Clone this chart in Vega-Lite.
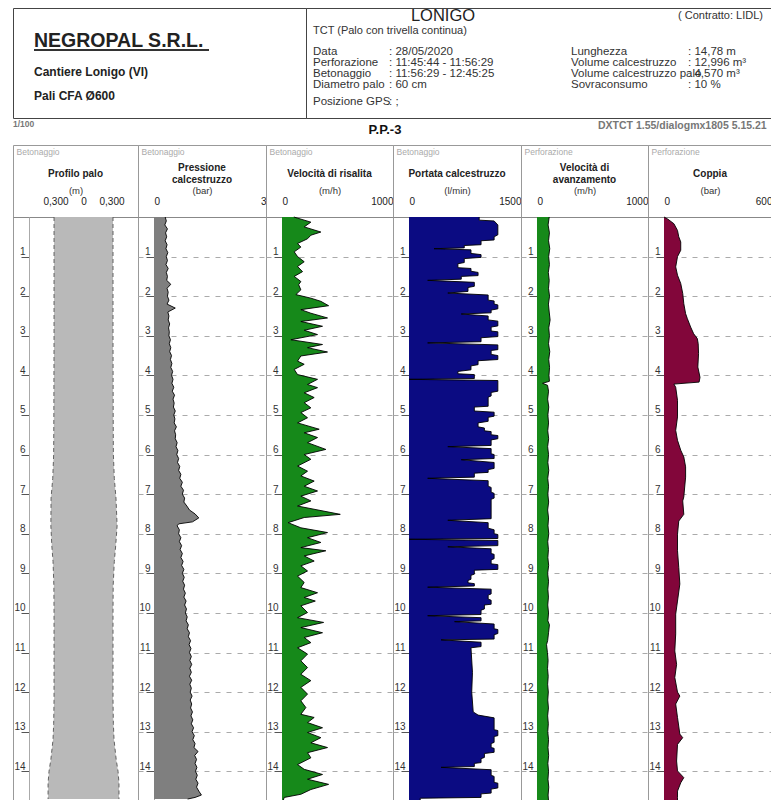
{
"$schema": "https://vega.github.io/schema/vega-lite/v6.json",
"padding": {"left": 12, "top": 7, "right": 0, "bottom": 0},
"background": "white",
"config": {
  "font": "Liberation Sans",
  "view": {"stroke": "#999", "strokeWidth": 1},
  "concat": {"spacing": 0},
  "axis": {"minExtent": 0, "labelOverlap": false, "labelFlush": false},
  "axisX": {"ticks": false, "tickSize": 0, "labelPadding": 11, "labelFontSize": 10, "labelColor": "#222", "titleFontSize": 9.5, "titleFontWeight": "normal", "titleColor": "#333", "titlePadding": 0.5, "domainColor": "#888", "grid": false},
  "axisY": {"labelFontSize": 10, "labelColor": "#333", "labelAlign": "right", "labelBaseline": "bottom", "labelPadding": -4, "tickSize": 8, "tickColor": "#555", "domainColor": "#aaa", "gridDash": [5, 6], "gridColor": "#aaa", "titleAngle": 0, "titleAlign": "left", "titleBaseline": "middle", "titleFontSize": 8.5, "titleFontWeight": "normal", "titleColor": "#aaa"},
  "title": {"fontSize": 10, "fontWeight": "bold", "color": "#222", "frame": "group", "anchor": "middle", "baseline": "middle", "lineHeight": 12, "offset": -34}
},
"datasets": {
  "prof": [{"d":0,"l":-0.316,"r":0.316},{"d":3,"l":-0.316,"r":0.316},{"d":5,"l":-0.318,"r":0.318},{"d":6,"l":-0.32,"r":0.32},{"d":6.6,"l":-0.33,"r":0.33},{"d":7.1,"l":-0.348,"r":0.348},{"d":7.8,"l":-0.35,"r":0.36},{"d":8.3,"l":-0.34,"r":0.345},{"d":8.7,"l":-0.327,"r":0.33},{"d":9.3,"l":-0.318,"r":0.318},{"d":10,"l":-0.316,"r":0.316},{"d":12.2,"l":-0.316,"r":0.316},{"d":12.8,"l":-0.32,"r":0.32},{"d":13.2,"l":-0.327,"r":0.327},{"d":13.7,"l":-0.35,"r":0.35},{"d":14,"l":-0.37,"r":0.37},{"d":14.3,"l":-0.38,"r":0.38},{"d":14.7,"l":-0.38,"r":0.38}],
  "pres": [{"d":0,"p":0.30},{"d":0.1,"p":0.33},{"d":0.2,"p":0.29},{"d":0.3,"p":0.36},{"d":0.4,"p":0.31},{"d":0.5,"p":0.34},{"d":0.6,"p":0.30},{"d":0.7,"p":0.35},{"d":0.8,"p":0.32},{"d":0.9,"p":0.37},{"d":1.0,"p":0.33},{"d":1.1,"p":0.36},{"d":1.2,"p":0.32},{"d":1.3,"p":0.38},{"d":1.4,"p":0.33},{"d":1.5,"p":0.36},{"d":1.6,"p":0.34},{"d":1.7,"p":0.45},{"d":1.8,"p":0.35},{"d":1.9,"p":0.38},{"d":2.0,"p":0.36},{"d":2.1,"p":0.40},{"d":2.2,"p":0.35},{"d":2.3,"p":0.57},{"d":2.4,"p":0.37},{"d":2.5,"p":0.40},{"d":2.6,"p":0.38},{"d":2.7,"p":0.42},{"d":2.8,"p":0.39},{"d":2.9,"p":0.41},{"d":3.0,"p":0.40},{"d":3.1,"p":0.44},{"d":3.2,"p":0.41},{"d":3.3,"p":0.45},{"d":3.4,"p":0.42},{"d":3.5,"p":0.47},{"d":3.6,"p":0.44},{"d":3.7,"p":0.48},{"d":3.8,"p":0.45},{"d":3.9,"p":0.50},{"d":4.0,"p":0.47},{"d":4.1,"p":0.51},{"d":4.2,"p":0.48},{"d":4.3,"p":0.53},{"d":4.4,"p":0.49},{"d":4.5,"p":0.55},{"d":4.6,"p":0.51},{"d":4.7,"p":0.54},{"d":4.8,"p":0.52},{"d":4.9,"p":0.57},{"d":5.0,"p":0.53},{"d":5.1,"p":0.56},{"d":5.2,"p":0.54},{"d":5.3,"p":0.60},{"d":5.4,"p":0.55},{"d":5.5,"p":0.58},{"d":5.6,"p":0.57},{"d":5.7,"p":0.62},{"d":5.8,"p":0.59},{"d":5.9,"p":0.64},{"d":6.0,"p":0.61},{"d":6.1,"p":0.66},{"d":6.2,"p":0.63},{"d":6.3,"p":0.69},{"d":6.4,"p":0.66},{"d":6.5,"p":0.72},{"d":6.6,"p":0.69},{"d":6.7,"p":0.76},{"d":6.8,"p":0.72},{"d":6.9,"p":0.79},{"d":7.0,"p":0.76},{"d":7.1,"p":0.82},{"d":7.2,"p":0.80},{"d":7.3,"p":0.88},{"d":7.4,"p":0.95},{"d":7.5,"p":1.10},{"d":7.6,"p":1.20},{"d":7.7,"p":1.03},{"d":7.75,"p":0.66},{"d":7.8,"p":0.62},{"d":7.9,"p":0.68},{"d":8.0,"p":0.66},{"d":8.1,"p":0.72},{"d":8.2,"p":0.68},{"d":8.3,"p":0.74},{"d":8.4,"p":0.70},{"d":8.5,"p":0.76},{"d":8.6,"p":0.72},{"d":8.7,"p":0.78},{"d":8.8,"p":0.74},{"d":8.9,"p":0.80},{"d":9.0,"p":0.76},{"d":9.1,"p":0.81},{"d":9.2,"p":0.77},{"d":9.3,"p":0.82},{"d":9.4,"p":0.79},{"d":9.5,"p":0.84},{"d":9.6,"p":0.80},{"d":9.7,"p":0.86},{"d":9.8,"p":0.82},{"d":9.9,"p":0.87},{"d":10.0,"p":0.84},{"d":10.1,"p":0.89},{"d":10.2,"p":0.86},{"d":10.3,"p":0.92},{"d":10.4,"p":0.89},{"d":10.5,"p":0.95},{"d":10.6,"p":0.92},{"d":10.7,"p":0.98},{"d":10.8,"p":0.94},{"d":10.9,"p":0.99},{"d":11.0,"p":0.95},{"d":11.1,"p":1.00},{"d":11.2,"p":0.96},{"d":11.3,"p":1.01},{"d":11.4,"p":0.96},{"d":11.5,"p":1.00},{"d":11.6,"p":0.95},{"d":11.7,"p":1.01},{"d":11.8,"p":0.96},{"d":11.9,"p":1.00},{"d":12.0,"p":0.97},{"d":12.1,"p":1.02},{"d":12.2,"p":0.97},{"d":12.3,"p":1.01},{"d":12.4,"p":0.98},{"d":12.5,"p":1.03},{"d":12.6,"p":0.99},{"d":12.7,"p":1.04},{"d":12.8,"p":1.00},{"d":12.9,"p":1.06},{"d":13.0,"p":1.02},{"d":13.1,"p":1.08},{"d":13.2,"p":1.04},{"d":13.3,"p":1.10},{"d":13.4,"p":1.07},{"d":13.5,"p":1.18},{"d":13.6,"p":1.09},{"d":13.7,"p":1.14},{"d":13.8,"p":1.10},{"d":13.9,"p":1.15},{"d":14.0,"p":1.11},{"d":14.1,"p":1.16},{"d":14.2,"p":1.12},{"d":14.3,"p":1.18},{"d":14.4,"p":1.14},{"d":14.5,"p":1.20},{"d":14.6,"p":1.27},{"d":14.66,"p":1.10},{"d":14.7,"p":0.90}],
  "vel": [{"d":0,"v":107},{"d":0.13,"v":260},{"d":0.25,"v":200},{"d":0.38,"v":350},{"d":0.46,"v":260},{"d":0.55,"v":230},{"d":0.67,"v":140},{"d":0.76,"v":170},{"d":0.88,"v":110},{"d":1.0,"v":140},{"d":1.13,"v":200},{"d":1.25,"v":140},{"d":1.38,"v":185},{"d":1.5,"v":110},{"d":1.63,"v":170},{"d":1.71,"v":150},{"d":1.84,"v":170},{"d":1.96,"v":125},{"d":2.05,"v":260},{"d":2.13,"v":350},{"d":2.24,"v":420},{"d":2.34,"v":170},{"d":2.43,"v":260},{"d":2.55,"v":410},{"d":2.64,"v":170},{"d":2.76,"v":365},{"d":2.86,"v":200},{"d":2.97,"v":320},{"d":3.1,"v":80},{"d":3.22,"v":365},{"d":3.3,"v":230},{"d":3.41,"v":410},{"d":3.51,"v":170},{"d":3.64,"v":140},{"d":3.72,"v":200},{"d":3.85,"v":110},{"d":3.98,"v":140},{"d":4.1,"v":320},{"d":4.23,"v":230},{"d":4.31,"v":320},{"d":4.44,"v":200},{"d":4.56,"v":290},{"d":4.69,"v":200},{"d":4.82,"v":260},{"d":4.94,"v":170},{"d":5.07,"v":230},{"d":5.2,"v":140},{"d":5.36,"v":335},{"d":5.45,"v":200},{"d":5.57,"v":320},{"d":5.7,"v":230},{"d":5.87,"v":395},{"d":6.0,"v":200},{"d":6.12,"v":260},{"d":6.29,"v":140},{"d":6.42,"v":230},{"d":6.54,"v":170},{"d":6.67,"v":290},{"d":6.8,"v":200},{"d":6.92,"v":320},{"d":7.05,"v":170},{"d":7.17,"v":260},{"d":7.3,"v":140},{"d":7.51,"v":525},{"d":7.59,"v":200},{"d":7.72,"v":55},{"d":7.85,"v":170},{"d":7.97,"v":410},{"d":8.1,"v":230},{"d":8.22,"v":350},{"d":8.35,"v":170},{"d":8.43,"v":395},{"d":8.56,"v":200},{"d":8.69,"v":290},{"d":8.81,"v":170},{"d":8.94,"v":230},{"d":9.07,"v":140},{"d":9.23,"v":200},{"d":9.36,"v":170},{"d":9.49,"v":320},{"d":9.61,"v":200},{"d":9.7,"v":300},{"d":9.82,"v":170},{"d":9.99,"v":230},{"d":10.12,"v":140},{"d":10.24,"v":375},{"d":10.37,"v":170},{"d":10.5,"v":365},{"d":10.62,"v":200},{"d":10.75,"v":260},{"d":10.88,"v":140},{"d":11.04,"v":230},{"d":11.21,"v":170},{"d":11.38,"v":230},{"d":11.55,"v":170},{"d":11.71,"v":260},{"d":11.88,"v":170},{"d":12.05,"v":230},{"d":12.22,"v":170},{"d":12.39,"v":215},{"d":12.56,"v":170},{"d":12.64,"v":290},{"d":12.77,"v":230},{"d":12.9,"v":365},{"d":13.02,"v":230},{"d":13.15,"v":350},{"d":13.28,"v":260},{"d":13.4,"v":410},{"d":13.53,"v":230},{"d":13.66,"v":260},{"d":13.83,"v":140},{"d":13.95,"v":200},{"d":14.08,"v":365},{"d":14.2,"v":230},{"d":14.33,"v":420},{"d":14.46,"v":260},{"d":14.58,"v":170},{"d":14.66,"v":20},{"d":14.75,"v":10}],
  "port": [{"d":0,"q":940},{"d":0.08,"q":940},{"d":0.1,"q":1140},{"d":0.2,"q":1190},{"d":0.45,"q":1190},{"d":0.5,"q":1140},{"d":0.58,"q":1140},{"d":0.6,"q":965},{"d":0.7,"q":965},{"d":0.72,"q":740},{"d":0.78,"q":740},{"d":0.8,"q":335},{"d":0.83,"q":830},{"d":0.92,"q":830},{"d":0.95,"q":965},{"d":1.02,"q":965},{"d":1.05,"q":740},{"d":1.15,"q":740},{"d":1.18,"q":655},{"d":1.28,"q":655},{"d":1.3,"q":830},{"d":1.37,"q":830},{"d":1.4,"q":925},{"d":1.48,"q":925},{"d":1.5,"q":700},{"d":1.57,"q":700},{"d":1.6,"q":250},{"d":1.65,"q":875},{"d":1.75,"q":875},{"d":1.78,"q":790},{"d":1.88,"q":790},{"d":1.92,"q":520},{"d":1.97,"q":1060},{"d":2.1,"q":1060},{"d":2.12,"q":1140},{"d":2.2,"q":1140},{"d":2.22,"q":1190},{"d":2.32,"q":1190},{"d":2.35,"q":1100},{"d":2.42,"q":1100},{"d":2.45,"q":700},{"d":2.5,"q":1060},{"d":2.6,"q":1060},{"d":2.63,"q":1190},{"d":2.75,"q":1190},{"d":2.78,"q":1100},{"d":2.88,"q":1100},{"d":2.9,"q":1190},{"d":3.02,"q":1190},{"d":3.05,"q":965},{"d":3.15,"q":965},{"d":3.18,"q":250},{"d":3.23,"q":1190},{"d":3.35,"q":1190},{"d":3.37,"q":1100},{"d":3.47,"q":1100},{"d":3.5,"q":1190},{"d":3.6,"q":1190},{"d":3.63,"q":925},{"d":3.73,"q":925},{"d":3.76,"q":830},{"d":3.86,"q":830},{"d":3.9,"q":655},{"d":3.96,"q":655},{"d":3.98,"q":875},{"d":4.08,"q":875},{"d":4.1,"q":0},{"d":4.13,"q":1190},{"d":4.4,"q":1190},{"d":4.43,"q":1100},{"d":4.52,"q":1100},{"d":4.55,"q":1060},{"d":4.78,"q":1060},{"d":4.8,"q":875},{"d":4.9,"q":875},{"d":4.93,"q":1140},{"d":5.03,"q":1140},{"d":5.06,"q":1060},{"d":5.16,"q":1060},{"d":5.2,"q":925},{"d":5.3,"q":925},{"d":5.33,"q":1010},{"d":5.4,"q":1010},{"d":5.42,"q":1100},{"d":5.5,"q":1100},{"d":5.52,"q":1190},{"d":5.6,"q":1190},{"d":5.63,"q":1100},{"d":5.77,"q":1100},{"d":5.8,"q":520},{"d":5.85,"q":1100},{"d":5.98,"q":1100},{"d":6.0,"q":1140},{"d":6.1,"q":1140},{"d":6.13,"q":700},{"d":6.2,"q":1140},{"d":6.35,"q":1140},{"d":6.38,"q":1060},{"d":6.45,"q":1060},{"d":6.47,"q":875},{"d":6.57,"q":875},{"d":6.6,"q":250},{"d":6.66,"q":1060},{"d":6.8,"q":1060},{"d":6.83,"q":1100},{"d":6.95,"q":1100},{"d":6.98,"q":1140},{"d":7.1,"q":1140},{"d":7.13,"q":1100},{"d":7.62,"q":1100},{"d":7.66,"q":520},{"d":7.72,"q":1060},{"d":7.86,"q":1060},{"d":7.9,"q":1140},{"d":8.0,"q":1140},{"d":8.02,"q":1190},{"d":8.12,"q":1190},{"d":8.14,"q":0},{"d":8.17,"q":1190},{"d":8.3,"q":1190},{"d":8.33,"q":520},{"d":8.38,"q":1100},{"d":8.5,"q":1100},{"d":8.52,"q":1140},{"d":8.63,"q":1140},{"d":8.66,"q":1100},{"d":8.76,"q":1100},{"d":8.78,"q":1190},{"d":8.9,"q":1190},{"d":8.92,"q":875},{"d":9.02,"q":875},{"d":9.05,"q":830},{"d":9.15,"q":830},{"d":9.18,"q":790},{"d":9.24,"q":790},{"d":9.26,"q":875},{"d":9.32,"q":875},{"d":9.35,"q":250},{"d":9.4,"q":1100},{"d":9.52,"q":1100},{"d":9.55,"q":1060},{"d":9.65,"q":1060},{"d":9.68,"q":1100},{"d":9.78,"q":1100},{"d":9.8,"q":1010},{"d":9.9,"q":1010},{"d":9.93,"q":965},{"d":10.04,"q":965},{"d":10.07,"q":250},{"d":10.12,"q":965},{"d":10.2,"q":965},{"d":10.22,"q":610},{"d":10.28,"q":1140},{"d":10.4,"q":1140},{"d":10.42,"q":1190},{"d":10.52,"q":1190},{"d":10.55,"q":1140},{"d":10.66,"q":1140},{"d":10.68,"q":430},{"d":10.74,"q":965},{"d":10.85,"q":965},{"d":10.88,"q":830},{"d":11.5,"q":850},{"d":12.0,"q":840},{"d":12.5,"q":860},{"d":12.58,"q":925},{"d":12.65,"q":1140},{"d":12.95,"q":1140},{"d":12.97,"q":1190},{"d":13.1,"q":1190},{"d":13.12,"q":1140},{"d":13.27,"q":1140},{"d":13.3,"q":1100},{"d":13.4,"q":1100},{"d":13.42,"q":1140},{"d":13.52,"q":1140},{"d":13.55,"q":1010},{"d":13.65,"q":1010},{"d":13.68,"q":965},{"d":13.78,"q":965},{"d":13.8,"q":875},{"d":13.88,"q":875},{"d":13.9,"q":430},{"d":13.96,"q":1100},{"d":14.1,"q":1100},{"d":14.13,"q":1140},{"d":14.28,"q":1140},{"d":14.3,"q":1190},{"d":14.42,"q":1190},{"d":14.45,"q":1100},{"d":14.55,"q":1100},{"d":14.57,"q":965},{"d":14.66,"q":965},{"d":14.68,"q":150},{"d":14.75,"q":150}],
  "av": [{"d":0,"a":110},{"d":0.2,"a":100},{"d":0.4,"a":112},{"d":0.6,"a":104},{"d":0.8,"a":115},{"d":1.0,"a":105},{"d":1.2,"a":112},{"d":1.4,"a":102},{"d":1.6,"a":110},{"d":1.8,"a":104},{"d":2.0,"a":113},{"d":2.2,"a":103},{"d":2.4,"a":110},{"d":2.6,"a":118},{"d":2.8,"a":106},{"d":3.0,"a":112},{"d":3.2,"a":104},{"d":3.4,"a":115},{"d":3.6,"a":106},{"d":3.8,"a":113},{"d":4.0,"a":108},{"d":4.15,"a":112},{"d":4.2,"a":50},{"d":4.25,"a":95},{"d":4.4,"a":104},{"d":4.6,"a":96},{"d":4.8,"a":106},{"d":5.0,"a":98},{"d":5.2,"a":104},{"d":5.4,"a":97},{"d":5.6,"a":105},{"d":5.8,"a":96},{"d":6.0,"a":104},{"d":6.2,"a":98},{"d":6.4,"a":106},{"d":6.6,"a":97},{"d":6.8,"a":104},{"d":7.0,"a":98},{"d":7.2,"a":105},{"d":7.4,"a":96},{"d":7.6,"a":104},{"d":7.8,"a":99},{"d":8.0,"a":106},{"d":8.2,"a":97},{"d":8.4,"a":103},{"d":8.6,"a":98},{"d":8.8,"a":105},{"d":9.0,"a":96},{"d":9.2,"a":104},{"d":9.4,"a":98},{"d":9.6,"a":103},{"d":9.8,"a":97},{"d":10.0,"a":104},{"d":10.2,"a":98},{"d":10.3,"a":112},{"d":10.5,"a":104},{"d":10.7,"a":96},{"d":10.8,"a":86},{"d":11.0,"a":94},{"d":11.2,"a":100},{"d":11.4,"a":95},{"d":11.6,"a":101},{"d":11.8,"a":96},{"d":12.0,"a":102},{"d":12.2,"a":97},{"d":12.4,"a":103},{"d":12.6,"a":96},{"d":12.8,"a":102},{"d":13.0,"a":97},{"d":13.2,"a":104},{"d":13.4,"a":99},{"d":13.6,"a":105},{"d":13.8,"a":98},{"d":14.0,"a":104},{"d":14.2,"a":99},{"d":14.4,"a":106},{"d":14.6,"a":100},{"d":14.75,"a":104}],
  "cop": [{"d":0,"c":0},{"d":0.05,"c":20},{"d":0.17,"c":55},{"d":0.34,"c":75},{"d":0.5,"c":82},{"d":0.63,"c":93},{"d":0.84,"c":93},{"d":1.0,"c":75},{"d":1.26,"c":65},{"d":1.47,"c":75},{"d":1.68,"c":93},{"d":1.93,"c":104},{"d":2.19,"c":110},{"d":2.44,"c":120},{"d":2.57,"c":130},{"d":2.78,"c":148},{"d":2.95,"c":165},{"d":3.07,"c":185},{"d":3.2,"c":190},{"d":3.45,"c":192},{"d":3.79,"c":188},{"d":4.05,"c":200},{"d":4.17,"c":195},{"d":4.22,"c":55},{"d":4.3,"c":65},{"d":4.63,"c":75},{"d":5.05,"c":75},{"d":5.39,"c":65},{"d":5.64,"c":75},{"d":5.89,"c":93},{"d":6.06,"c":110},{"d":6.31,"c":120},{"d":6.57,"c":120},{"d":6.82,"c":115},{"d":7.07,"c":110},{"d":7.17,"c":104},{"d":7.51,"c":110},{"d":7.68,"c":82},{"d":8.01,"c":75},{"d":8.43,"c":75},{"d":8.85,"c":82},{"d":9.27,"c":88},{"d":9.7,"c":75},{"d":10.03,"c":65},{"d":10.53,"c":65},{"d":10.96,"c":60},{"d":11.3,"c":70},{"d":11.63,"c":60},{"d":12.0,"c":75},{"d":12.1,"c":88},{"d":12.3,"c":65},{"d":12.64,"c":75},{"d":13.06,"c":88},{"d":13.15,"c":104},{"d":13.32,"c":75},{"d":13.74,"c":70},{"d":13.99,"c":75},{"d":14.16,"c":110},{"d":14.29,"c":93},{"d":14.5,"c":75},{"d":14.66,"c":75},{"d":14.75,"c":75}]
},
"spacing": 2,
"vconcat": [
  {
    "spacing": 0,
    "vconcat": [
      {
        "spacing": 0,
        "bounds": "flush",
        "hconcat": [
          {
            "width": 293, "height": 110,
            "view": {"stroke": "#444"},
            "data": {"values": [{"row": 1, "col": 1, "text": "NEGROPAL S.R.L."}, {"row": 3, "col": 1, "text": "Cantiere Lonigo (VI)"}, {"row": 4, "col": 1, "text": "Pali CFA Ø600"}]},
            "encoding": {
              "x": {"field": "col", "type": "quantitative", "scale": {"domain": [1, 2], "range": [21, 196], "nice": false, "zero": false}, "axis": null},
              "y": {"field": "row", "type": "quantitative", "scale": {"domain": [1, 2, 3, 4], "range": [32.5, 42, 64, 88], "nice": false, "zero": false}, "axis": null}
            },
            "layer": [
              {"transform": [{"filter": "datum.row == 1"}], "mark": {"type": "text", "align": "left", "baseline": "middle", "fontSize": 19.5, "fontWeight": "bold", "color": "#222"}, "encoding": {"text": {"field": "text"}}},
              {"transform": [{"filter": "datum.row > 1"}], "mark": {"type": "text", "align": "left", "baseline": "middle", "fontSize": 12, "fontWeight": "bold", "color": "#222"}, "encoding": {"text": {"field": "text"}}},
              {"data": {"values": [{"row": 2, "col": 1, "col2": 2}]}, "mark": {"type": "rule", "color": "#333", "strokeWidth": 2}, "encoding": {"x2": {"field": "col2"}}}
            ]
          },
          {
            "width": 466, "height": 110,
            "view": {"stroke": "#444"},
            "data": {"values": [
              {"row": 1, "col": 3, "text": "LONIGO"},
              {"row": 1, "col": 6, "text": "( Contratto: LIDL)"},
              {"row": 2, "col": 1, "text": "TCT (Palo con trivella continua)"},
              {"row": 3, "col": 1, "text": "Data"}, {"row": 3, "col": 2, "text": ": 28/05/2020"}, {"row": 3, "col": 4, "text": "Lunghezza"}, {"row": 3, "col": 5, "text": ": 14,78 m"},
              {"row": 4, "col": 1, "text": "Perforazione"}, {"row": 4, "col": 2, "text": ": 11:45:44 - 11:56:29"}, {"row": 4, "col": 4, "text": "Volume calcestruzzo"}, {"row": 4, "col": 5, "text": ": 12,996 m³"},
              {"row": 5, "col": 1, "text": "Betonaggio"}, {"row": 5, "col": 2, "text": ": 11:56:29 - 12:45:25"}, {"row": 5, "col": 4, "text": "Volume calcestruzzo palo"}, {"row": 5, "col": 5, "text": ": 4,570 m³"},
              {"row": 6, "col": 1, "text": "Diametro palo"}, {"row": 6, "col": 2, "text": ": 60 cm"}, {"row": 6, "col": 4, "text": "Sovraconsumo"}, {"row": 6, "col": 5, "text": ": 10 %"},
              {"row": 7, "col": 1, "text": "Posizione GPS"}, {"row": 7, "col": 2, "text": ": ;"}
            ]},
            "encoding": {
              "x": {"field": "col", "type": "quantitative", "scale": {"domain": [1, 2, 3, 4, 5, 6], "range": [7, 83, 137, 265, 382, 457], "nice": false, "zero": false}, "axis": null},
              "y": {"field": "row", "type": "quantitative", "scale": {"domain": [1, 2, 2.5, 3, 4, 5, 6, 7], "range": [8, 23, 33, 44, 55, 66, 77, 94], "nice": false, "zero": false}, "axis": null}
            },
            "layer": [
              {"transform": [{"filter": "datum.row == 1 && datum.col == 3"}], "mark": {"type": "text", "align": "center", "baseline": "middle", "fontSize": 16.5, "color": "#222"}, "encoding": {"text": {"field": "text"}}},
              {"transform": [{"filter": "datum.row == 1 && datum.col == 6"}], "mark": {"type": "text", "align": "right", "baseline": "middle", "fontSize": 11, "color": "#333"}, "encoding": {"text": {"field": "text"}}},
              {"transform": [{"filter": "datum.row == 2"}], "mark": {"type": "text", "align": "left", "baseline": "middle", "fontSize": 11, "color": "#333"}, "encoding": {"text": {"field": "text"}}},
              {"transform": [{"filter": "datum.row >= 3"}], "mark": {"type": "text", "align": "left", "baseline": "middle", "fontSize": 11.5, "color": "#333"}, "encoding": {"text": {"field": "text"}}},
              {"data": {"values": [{}]}, "mark": {"type": "rule", "color": "#555", "strokeWidth": 1}, "encoding": {"y": {"datum": 2.5}}}
            ]
          }
        ]
      },
      {
        "width": 759, "height": 20,
        "view": {"stroke": "transparent"},
        "data": {"values": [{"col": 1, "row": 1, "text": "1/100"}, {"col": 2, "row": 2, "text": "P.P.-3"}, {"col": 3, "row": 3, "text": "DXTCT 1.55/dialogmx1805 5.15.21"}]},
        "encoding": {
          "x": {"field": "col", "type": "quantitative", "scale": {"domain": [1, 2, 3], "range": [0, 372, 585], "nice": false, "zero": false}, "axis": null},
          "y": {"field": "row", "type": "quantitative", "scale": {"domain": [1, 2, 3], "range": [2.5, 9, 5], "nice": false, "zero": false}, "axis": null},
          "text": {"field": "text"}
        },
        "layer": [
          {"transform": [{"filter": "datum.col == 1"}], "mark": {"type": "text", "align": "left", "baseline": "middle", "fontSize": 8.5, "fontWeight": "bold", "color": "#777"}},
          {"transform": [{"filter": "datum.col == 2"}], "mark": {"type": "text", "align": "center", "baseline": "middle", "fontSize": 13, "fontWeight": "bold", "color": "#111"}},
          {"transform": [{"filter": "datum.col == 3"}], "mark": {"type": "text", "align": "left", "baseline": "middle", "fontSize": 10.5, "fontWeight": "bold", "color": "#777"}}
        ]
      }
    ]
  },
  {
    "spacing": 0,
    "bounds": "flush",
    "hconcat": [
      {
        "width": 125, "height": 656,
        "title": "Profilo palo",
        "data": {"name": "prof"},
        "encoding": {
          "y": {"field": "d", "type": "quantitative", "scale": {"domain": [0, 14.75], "range": [72, 656], "nice": false, "zero": false}, "axis": {"orient": "left", "offset": -16, "values": [1,2,3,4,5,6,7,8,9,10,11,12,13,14], "title": "Betonaggio", "titleX": -13, "titleY": 6, "grid": false}},
          "x": {"field": "l", "type": "quantitative", "scale": {"domain": [-0.756, 0.584], "nice": false, "zero": false}, "axis": {"orient": "top", "offset": -72, "values": [-0.3, 0, 0.3], "labelExpr": "datum.value == 0 ? '0' : '0,300'", "labelAlign": "center", "title": "(m)"}}
        },
        "layer": [
          {"mark": {"type": "area", "orient": "horizontal", "color": "#b9b9b9"}, "encoding": {"x2": {"field": "r"}}},
          {"mark": {"type": "line", "orient": "horizontal", "color": "#555", "strokeDash": [4, 3], "strokeWidth": 0.9}},
          {"mark": {"type": "line", "orient": "horizontal", "color": "#555", "strokeDash": [4, 3], "strokeWidth": 0.9}, "encoding": {"x": {"field": "r", "type": "quantitative"}}},
          {"data": {"values": [{"l": 0}]}, "mark": {"type": "rule", "color": "#666", "strokeDash": [5, 4], "strokeWidth": 0.8}, "encoding": {"y": {"datum": 0}, "y2": {"datum": 14.75}}}
        ]
      },
      {
        "width": 128, "height": 656,
        "title": {"text": ["Pressione", "calcestruzzo"], "offset": -40},
        "data": {"name": "pres"},
        "encoding": {
          "y": {"field": "d", "type": "quantitative", "scale": {"domain": [0, 14.75], "range": [72, 656], "nice": false, "zero": false}, "axis": {"orient": "left", "offset": -16, "values": [1,2,3,4,5,6,7,8,9,10,11,12,13,14], "title": "Betonaggio", "titleX": -13, "titleY": 6, "grid": true}},
          "x": {"field": "p", "type": "quantitative", "scale": {"domain": [-0.4286, 3], "nice": false, "zero": false}, "axis": {"orient": "top", "offset": -72, "values": [0, 3], "labelAlign": {"condition": {"test": "datum.value <= 0", "value": "left"}, "value": "right"}, "title": "(bar)"}}
        },
        "layer": [
          {"data": {"values": [{"p": 1.5}]}, "mark": {"type": "rule", "color": "#aaa", "strokeDash": [5, 6], "strokeWidth": 1}, "encoding": {"y": {"datum": 0}, "y2": {"datum": 14.75}}},
          {"mark": {"type": "area", "orient": "horizontal", "color": "#7f7f7f"}},
          {"mark": {"type": "line", "orient": "horizontal", "color": "#000", "strokeWidth": 0.9}}
        ]
      },
      {
        "width": 127, "height": 656,
        "title": "Velocità di risalita",
        "data": {"name": "vel"},
        "encoding": {
          "y": {"field": "d", "type": "quantitative", "scale": {"domain": [0, 14.75], "range": [72, 656], "nice": false, "zero": false}, "axis": {"orient": "left", "offset": -16, "values": [1,2,3,4,5,6,7,8,9,10,11,12,13,14], "title": "Betonaggio", "titleX": -13, "titleY": 6, "grid": true}},
          "x": {"field": "v", "type": "quantitative", "scale": {"domain": [-144.1, 1000], "nice": false, "zero": false}, "axis": {"orient": "top", "offset": -72, "values": [0, 1000], "format": "d", "labelAlign": {"condition": {"test": "datum.value <= 0", "value": "left"}, "value": "right"}, "title": "(m/h)"}}
        },
        "layer": [
          {"data": {"values": [{"v": 500}]}, "mark": {"type": "rule", "color": "#aaa", "strokeDash": [5, 6], "strokeWidth": 1}, "encoding": {"y": {"datum": 0}, "y2": {"datum": 14.75}}},
          {"mark": {"type": "area", "orient": "horizontal", "color": "#16891a"}},
          {"mark": {"type": "line", "orient": "horizontal", "color": "#000", "strokeWidth": 0.9}}
        ]
      },
      {
        "width": 128, "height": 656,
        "title": "Portata calcestruzzo",
        "data": {"name": "port"},
        "encoding": {
          "y": {"field": "d", "type": "quantitative", "scale": {"domain": [0, 14.75], "range": [72, 656], "nice": false, "zero": false}, "axis": {"orient": "left", "offset": -16, "values": [1,2,3,4,5,6,7,8,9,10,11,12,13,14], "title": "Betonaggio", "titleX": -13, "titleY": 6, "grid": true}},
          "x": {"field": "q", "type": "quantitative", "scale": {"domain": [-214.3, 1500], "nice": false, "zero": false}, "axis": {"orient": "top", "offset": -72, "values": [0, 1500], "format": "d", "labelAlign": {"condition": {"test": "datum.value <= 0", "value": "left"}, "value": "right"}, "title": "(l/min)"}}
        },
        "layer": [
          {"data": {"values": [{"q": 750}]}, "mark": {"type": "rule", "color": "#aaa", "strokeDash": [5, 6], "strokeWidth": 1}, "encoding": {"y": {"datum": 0}, "y2": {"datum": 14.75}}},
          {"mark": {"type": "area", "orient": "horizontal", "color": "#0b0b82"}},
          {"mark": {"type": "line", "orient": "horizontal", "color": "#000", "strokeWidth": 0.9}}
        ]
      },
      {
        "width": 127, "height": 656,
        "title": {"text": ["Velocità di", "avanzamento"], "offset": -40},
        "data": {"name": "av"},
        "encoding": {
          "y": {"field": "d", "type": "quantitative", "scale": {"domain": [0, 14.75], "range": [72, 656], "nice": false, "zero": false}, "axis": {"orient": "left", "offset": -16, "values": [1,2,3,4,5,6,7,8,9,10,11,12,13,14], "title": "Perforazione", "titleX": -13, "titleY": 6, "grid": true}},
          "x": {"field": "a", "type": "quantitative", "scale": {"domain": [-144.1, 1000], "nice": false, "zero": false}, "axis": {"orient": "top", "offset": -72, "values": [0, 1000], "format": "d", "labelAlign": {"condition": {"test": "datum.value <= 0", "value": "left"}, "value": "right"}, "title": "(m/h)"}}
        },
        "layer": [
          {"data": {"values": [{"a": 500}]}, "mark": {"type": "rule", "color": "#aaa", "strokeDash": [5, 6], "strokeWidth": 1}, "encoding": {"y": {"datum": 0}, "y2": {"datum": 14.75}}},
          {"mark": {"type": "area", "orient": "horizontal", "color": "#16891a"}},
          {"mark": {"type": "line", "orient": "horizontal", "color": "#000", "strokeWidth": 0.9}}
        ]
      },
      {
        "width": 124, "height": 656,
        "title": "Coppia",
        "data": {"name": "cop"},
        "encoding": {
          "y": {"field": "d", "type": "quantitative", "scale": {"domain": [0, 14.75], "range": [72, 656], "nice": false, "zero": false}, "axis": {"orient": "left", "offset": -16, "values": [1,2,3,4,5,6,7,8,9,10,11,12,13,14], "title": "Perforazione", "titleX": -13, "titleY": 6, "grid": true}},
          "x": {"field": "c", "type": "quantitative", "scale": {"domain": [-88.9, 600], "nice": false, "zero": false}, "axis": {"orient": "top", "offset": -72, "values": [0, 600], "labelAlign": {"condition": {"test": "datum.value <= 0", "value": "left"}, "value": "right"}, "title": "(bar)"}}
        },
        "layer": [
          {"data": {"values": [{"c": 300}]}, "mark": {"type": "rule", "color": "#aaa", "strokeDash": [5, 6], "strokeWidth": 1}, "encoding": {"y": {"datum": 0}, "y2": {"datum": 14.75}}},
          {"mark": {"type": "area", "orient": "horizontal", "color": "#82063a"}},
          {"mark": {"type": "line", "orient": "horizontal", "color": "#000", "strokeWidth": 0.9}}
        ]
      }
    ]
  }
]
}
